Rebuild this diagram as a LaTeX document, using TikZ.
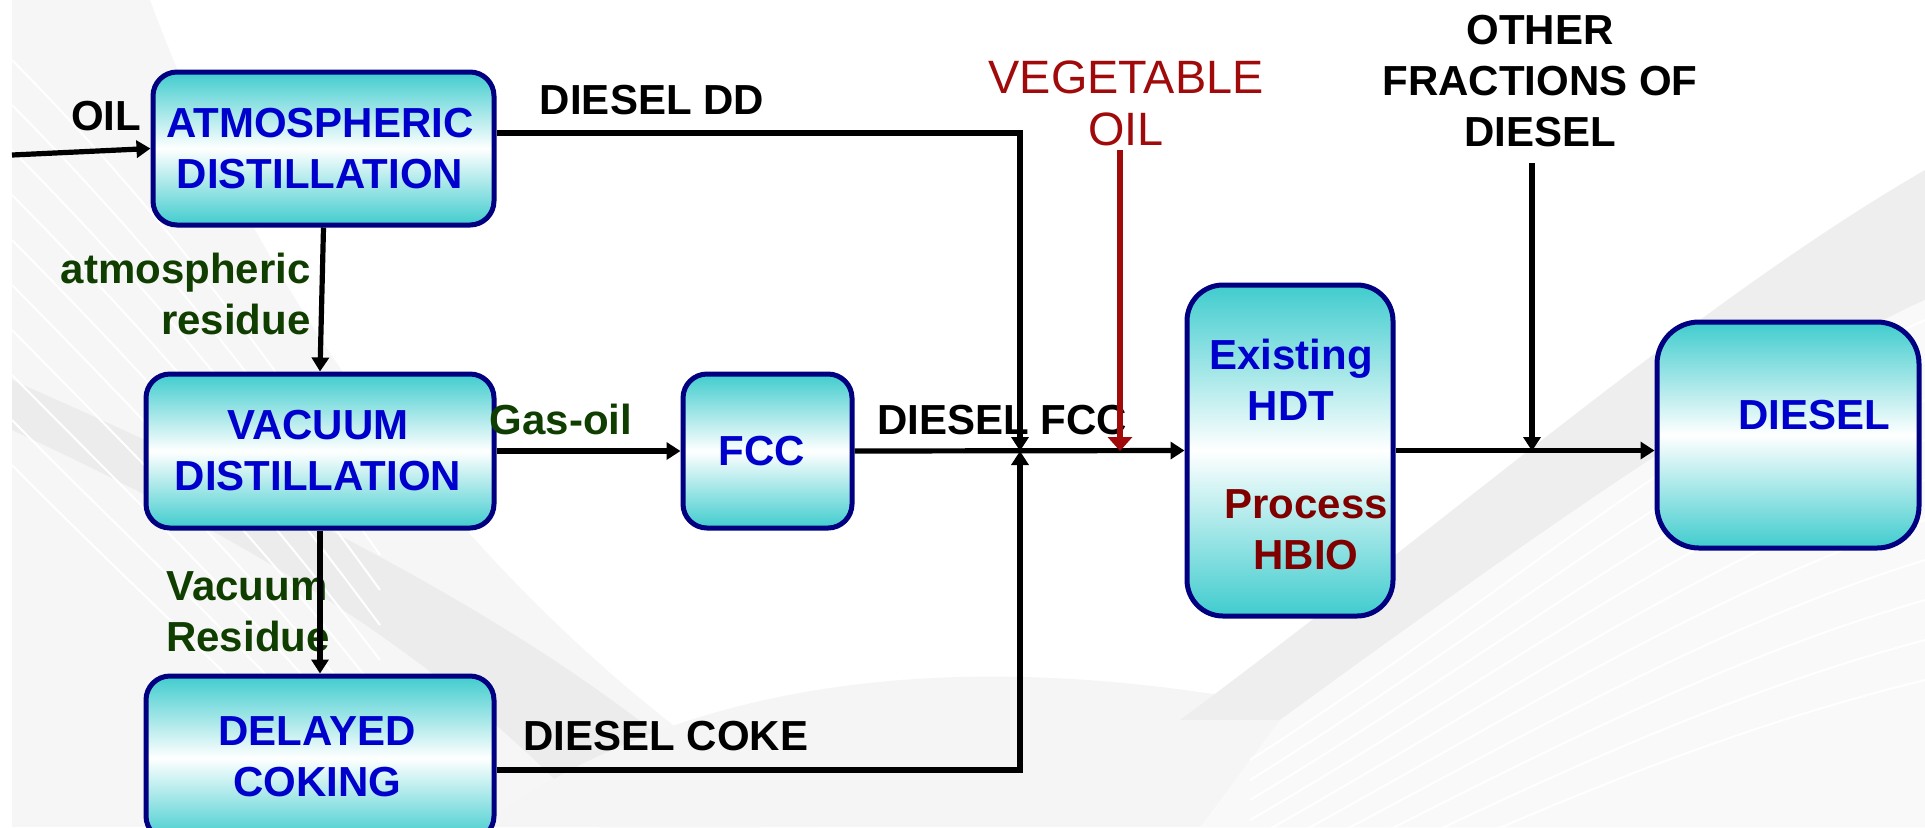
\documentclass[tikz,border=0pt]{standalone}
\usepackage{fontspec}
\setmainfont{Liberation Sans}
\usetikzlibrary{arrows.meta,calc}
\definecolor{tealc}{RGB}{64,204,206}
\definecolor{navyc}{RGB}{0,0,128}
\definecolor{bluetxt}{RGB}{0,0,204}
\definecolor{greentxt}{RGB}{16,62,0}
\definecolor{redtxt}{RGB}{128,0,0}
\definecolor{vegred}{RGB}{160,10,10}
\begin{document}
\begin{tikzpicture}[x=0.5pt,y=-0.5pt,
  box/.style={draw=navyc, line width=2.5pt, rounded corners=12pt, top color=tealc, bottom color=tealc, middle color=white, inner sep=0pt},
  lbl/.style={font=\fontsize{21}{25.5}\selectfont\bfseries, align=center, inner sep=0pt},
  boxtxt/.style={lbl, text=bluetxt},
  grn/.style={lbl, text=greentxt},
  flow/.style={line width=2.6pt, -{Triangle[length=7pt,width=8.5pt]}},
  redflow/.style={line width=2.6pt, draw=vegred, -{Triangle[length=7pt,width=12pt]}},
  bg/.style={draw=none}]
\useasboundingbox (0,0) rectangle (1925,827);
% background
\fill[white] (0,0) rectangle (1925,827);
\fill[bg, gray!7] (12,0) -- (150,0) .. controls (260,300) and (480,620) .. (820,827) -- (12,827) -- cycle;
\fill[bg, gray!15] (12,430) .. controls (250,540) and (450,660) .. (600,827) -- (760,827) .. controls (600,660) and (330,520) .. (12,380) -- cycle;
\fill[bg, gray!8] (480,827) .. controls (650,700) and (900,640) .. (1250,700) .. controls (1400,720) and (1600,620) .. (1925,460) -- (1925,827) -- cycle;
\fill[bg, gray!13] (1925,170) .. controls (1700,300) and (1450,520) .. (1180,720) -- (1280,720) .. controls (1500,560) and (1750,380) .. (1925,300) -- cycle;
\fill[bg, gray!5] (1925,300) .. controls (1750,380) and (1500,560) .. (1280,720) -- (1200,827) -- (1925,827) -- cycle;
\foreach \k in {0,...,9}{
  \draw[white, line width=1pt] (1925,{320+40*\k}) .. controls (1700,{420+35*\k}) and (1500,{600+25*\k}) .. (1250,{760+20*\k});
}
\foreach \k in {0,...,9}{
  \draw[white, line width=1pt] (12,{60+45*\k}) .. controls (150,{200+45*\k}) and (250,{330+40*\k}) .. (380,{520+35*\k});
}

% boxes
\node[box, minimum width=170.5pt, minimum height=76.5pt] (atm) at (323.5,148.5) {};
\node[boxtxt] (atmt) at (320,149) {ATMOSPHERIC\\DISTILLATION};
\node[box, minimum width=174pt, minimum height=77pt] (vac) at (320,451) {};
\node[boxtxt] (vact) at (318,451) {VACUUM\\DISTILLATION};
\node[box, minimum width=174pt, minimum height=82pt] (dc) at (320,758) {};
\node[boxtxt] (dct) at (317,757) {DELAYED\\COKING};
\node[box, minimum width=84.5pt, minimum height=77pt] (fcc) at (767.5,451) {};
\node[boxtxt] (fcct) at (762,451) {FCC};
\node[box, rounded corners=18pt, minimum width=103pt, minimum height=165.5pt] (hdt) at (1290,450.5) {};
\node[boxtxt] (hdtt) at (1291,380) {Existing\\HDT};
\node[lbl, text=redtxt] (hbio) at (1306,530) {Process\\HBIO};
\node[box, rounded corners=21pt, minimum width=131pt, minimum height=113pt] (diesel) at (1788,435) {};
\node[boxtxt] (dieselt) at (1814,415) {DIESEL};

% labels
\node[lbl] (oil) at (106,116) {OIL};
\node[lbl] (dd) at (652,100) {DIESEL DD};
\node[grn, align=right, anchor=east] (atres) at (311,294) {atmospheric\\residue};
\node[grn] (gas) at (561,419) {Gas-oil};
\node[lbl] (dfcc) at (1002,420) {DIESEL FCC};
\node[lbl] (dcoke) at (666,736) {DIESEL COKE};
\node[grn, align=left] (vres) at (248,612) {Vacuum\\Residue};
\node[font=\fontsize{23.4}{26}\selectfont, text=vegred, align=center, inner sep=0pt] (veg) at (1126,103) {VEGETABLE\\OIL};
\node[lbl] (other) at (1540,81) {OTHER\\FRACTIONS OF\\DIESEL};

% connectors
\coordinate (oilin) at (12,155);
\coordinate (J) at (1020,451);
\coordinate (vegtop) at (1120,150);
\coordinate (vegend) at (1120,451);
\coordinate (othtop) at (1532,163);
\coordinate (othend) at (1532,451);
\draw[flow] (oilin) -- (atm.west);
\draw[flow] (atm.south) -- (vac.north);
\draw[flow] (vac.east) -- (fcc.west);
\draw[flow] (vac.south) -- (dc.north);
\draw[flow] (fcc.east) -- (hdt.west);
\draw[flow] ($(atm.east)+(0,-15.5)$) -| (J);
\draw[flow] ($(dc.east)+(0,12)$) -| (J);
\draw[redflow] (vegtop) -- (vegend);
\draw[flow] (othtop) -- (othend);
\draw[flow] (hdt.east) -- (hdt.east -| diesel.west);
\end{tikzpicture}
\end{document}
